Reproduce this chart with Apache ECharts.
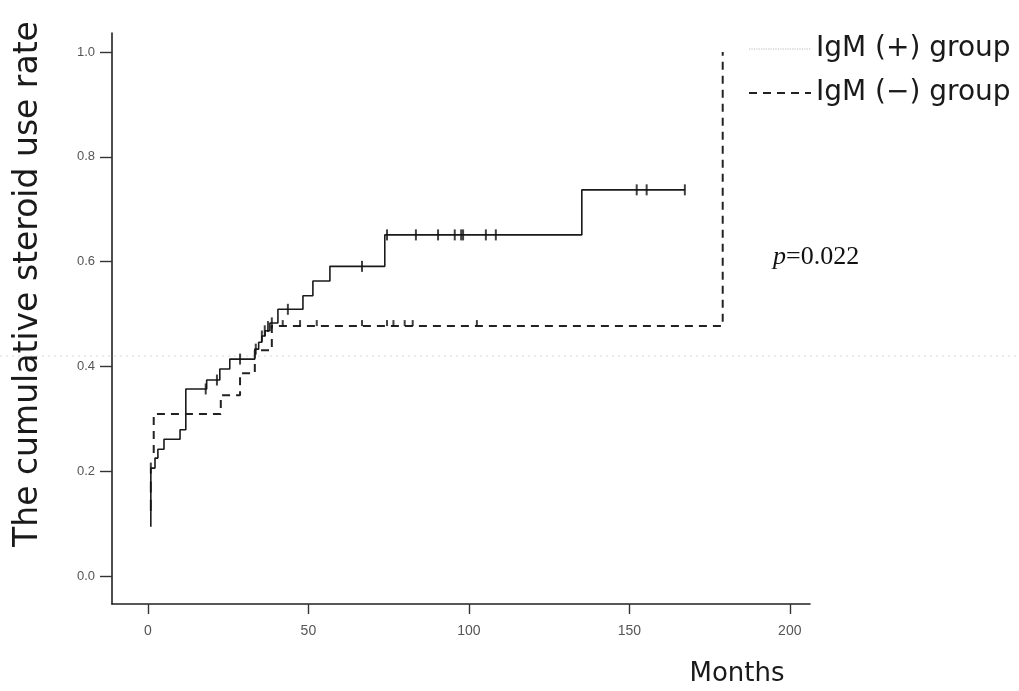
<!DOCTYPE html>
<html>
<head>
<meta charset="utf-8">
<script src="https://cdn.jsdelivr.net/npm/echarts@6/dist/echarts.min.js"></script>
<style>
html,body{margin:0;padding:0;background:#fff;}
#chart{width:1019px;height:691px;}
</style>
</head>
<body>
<div id="chart"></div>
<script>
// ---- data ----
const xTicks = [0, 50, 100, 150, 200];
const yTicks = [0, 0.2, 0.4, 0.6, 0.8, 1.0];

// IgM (+) group (solid Kaplan-Meier step curve)
const posTimes = [0.9, 0.9, 2.2, 3.1, 5.0, 10.0, 11.8, 18.3, 22.4, 25.5, 33.3, 34.5, 35.5, 36.5, 38.0, 40.5, 48.3, 51.4, 56.7, 73.8, 135.2, 167.3];
const posRates = [0.094, 0.206, 0.225, 0.242, 0.261, 0.279, 0.357, 0.374, 0.395, 0.414, 0.433, 0.446, 0.458, 0.468, 0.483, 0.509, 0.535, 0.563, 0.591, 0.651, 0.737, 0.737];
const posCensorTimes = [0.9, 0.9, 0.9, 18.0, 21.5, 28.7, 33.6, 35.5, 36.4, 37.4, 38.6, 43.6, 66.7, 74.5, 83.5, 90.4, 95.6, 97.6, 98.2, 105.3, 108.4, 152.3, 155.4, 167.3];
const posCensorRates = [0.135, 0.17, 0.206, 0.357, 0.374, 0.414, 0.433, 0.458, 0.468, 0.476, 0.483, 0.509, 0.591, 0.651, 0.651, 0.651, 0.651, 0.651, 0.651, 0.651, 0.651, 0.737, 0.737, 0.737];

// IgM (-) group (dashed step curve)
const negTimes = [1.8, 1.8, 22.7, 28.7, 33.3, 38.6, 179.1, 179.1];
const negRates = [0.235, 0.309, 0.345, 0.387, 0.431, 0.477, 0.477, 1.0];
const negCensorTimes = [42.0, 47.4, 52.6, 66.7, 74.5, 76.5, 80.0, 82.5, 102.5];
const negCensorRates = [0.477, 0.477, 0.477, 0.477, 0.477, 0.477, 0.477, 0.477, 0.477];

const seriesNames = ['IgM (+) group', 'IgM (\u2212) group'];

const zip = (a, b) => a.map((v, i) => [v, b[i]]);

const chart = echarts.init(document.getElementById('chart'));
chart.setOption({
  animation: false,
  backgroundColor: '#ffffff',
  grid: { left: 112, right: 209, top: 33, bottom: 87 },
  xAxis: {
    type: 'value', min: -11.2, max: 206.3,
    splitLine: { show: false },
    axisLine: { onZero: false, lineStyle: { color: '#222', width: 1.6 } },
    axisTick: { customValues: xTicks, length: 10, lineStyle: { color: '#333', width: 1.4 } },
    axisLabel: { customValues: xTicks, margin: 20, color: '#555', fontSize: 14, fontFamily: 'Liberation Sans' }
  },
  yAxis: {
    type: 'value', min: -0.0534, max: 1.0363,
    splitLine: { show: false },
    axisLine: { onZero: false, lineStyle: { color: '#222', width: 1.6 } },
    axisTick: { customValues: yTicks, length: 12, lineStyle: { color: '#333', width: 1.4 } },
    axisLabel: { customValues: yTicks, margin: 17, color: '#555', fontSize: 13, fontFamily: 'Liberation Sans',
      formatter: v => v.toFixed(1) }
  },
  legend: {
    orient: 'vertical', left: 743, top: 30, itemGap: 16,
    itemWidth: 62, itemHeight: 14,
    textStyle: { fontSize: 28, fontFamily: 'DejaVu Sans', color: '#1a1a1a' },
    data: [
      { name: seriesNames[0], itemStyle: { opacity: 0 }, lineStyle: { color: '#bbbbbb', type: 'dotted', width: 1.2 } },
      { name: seriesNames[1], itemStyle: { opacity: 0 }, lineStyle: { color: '#222', type: [8, 6], width: 2 } }
    ]
  },
  graphic: [
    { type: 'line', silent: true, z: 0, shape: { x1: 0, y1: 356, x2: 1019, y2: 356 },
      style: { stroke: '#d8d8d8', lineWidth: 1, lineDash: [2, 4] } },
    { type: 'text', x: 28, y: 284, rotation: Math.PI / 2,
      style: { text: 'The cumulative steroid use rate', font: '33px "DejaVu Sans"', fill: '#1a1a1a',
        textAlign: 'center', textVerticalAlign: 'middle' } },
    { type: 'text', x: 737, y: 674,
      style: { text: 'Months', font: '26px "DejaVu Sans"', fill: '#1a1a1a',
        textAlign: 'center', textVerticalAlign: 'middle' } },
    { type: 'text', x: 773, y: 257,
      style: { text: '{i|p}=0.022', fill: '#111', textVerticalAlign: 'middle',
        font: '26px "Liberation Serif"',
        rich: { i: { fontStyle: 'italic', fontSize: 26, fontFamily: 'Liberation Serif' } } } }
  ],
  series: [
    { name: seriesNames[0], type: 'line', step: 'end', symbol: 'none',
      data: zip(posTimes, posRates),
      lineStyle: { color: '#1a1a1a', width: 1.6 }, itemStyle: { color: '#1a1a1a' } },
    { name: seriesNames[1], type: 'line', step: 'end', symbol: 'none',
      data: zip(negTimes, negRates),
      lineStyle: { color: '#222', width: 2, type: [8, 6] }, itemStyle: { color: '#222' } },
    { name: 'pos censor', type: 'scatter', symbol: 'rect', symbolSize: [2, 11],
      data: zip(posCensorTimes, posCensorRates), itemStyle: { color: '#111' }, z: 3 },
    { name: 'neg censor', type: 'scatter', symbol: 'rect', symbolSize: [2, 6], symbolOffset: [0, -3],
      data: zip(negCensorTimes, negCensorRates), itemStyle: { color: '#111' }, z: 3 }
  ]
});
</script>
</body>
</html>
